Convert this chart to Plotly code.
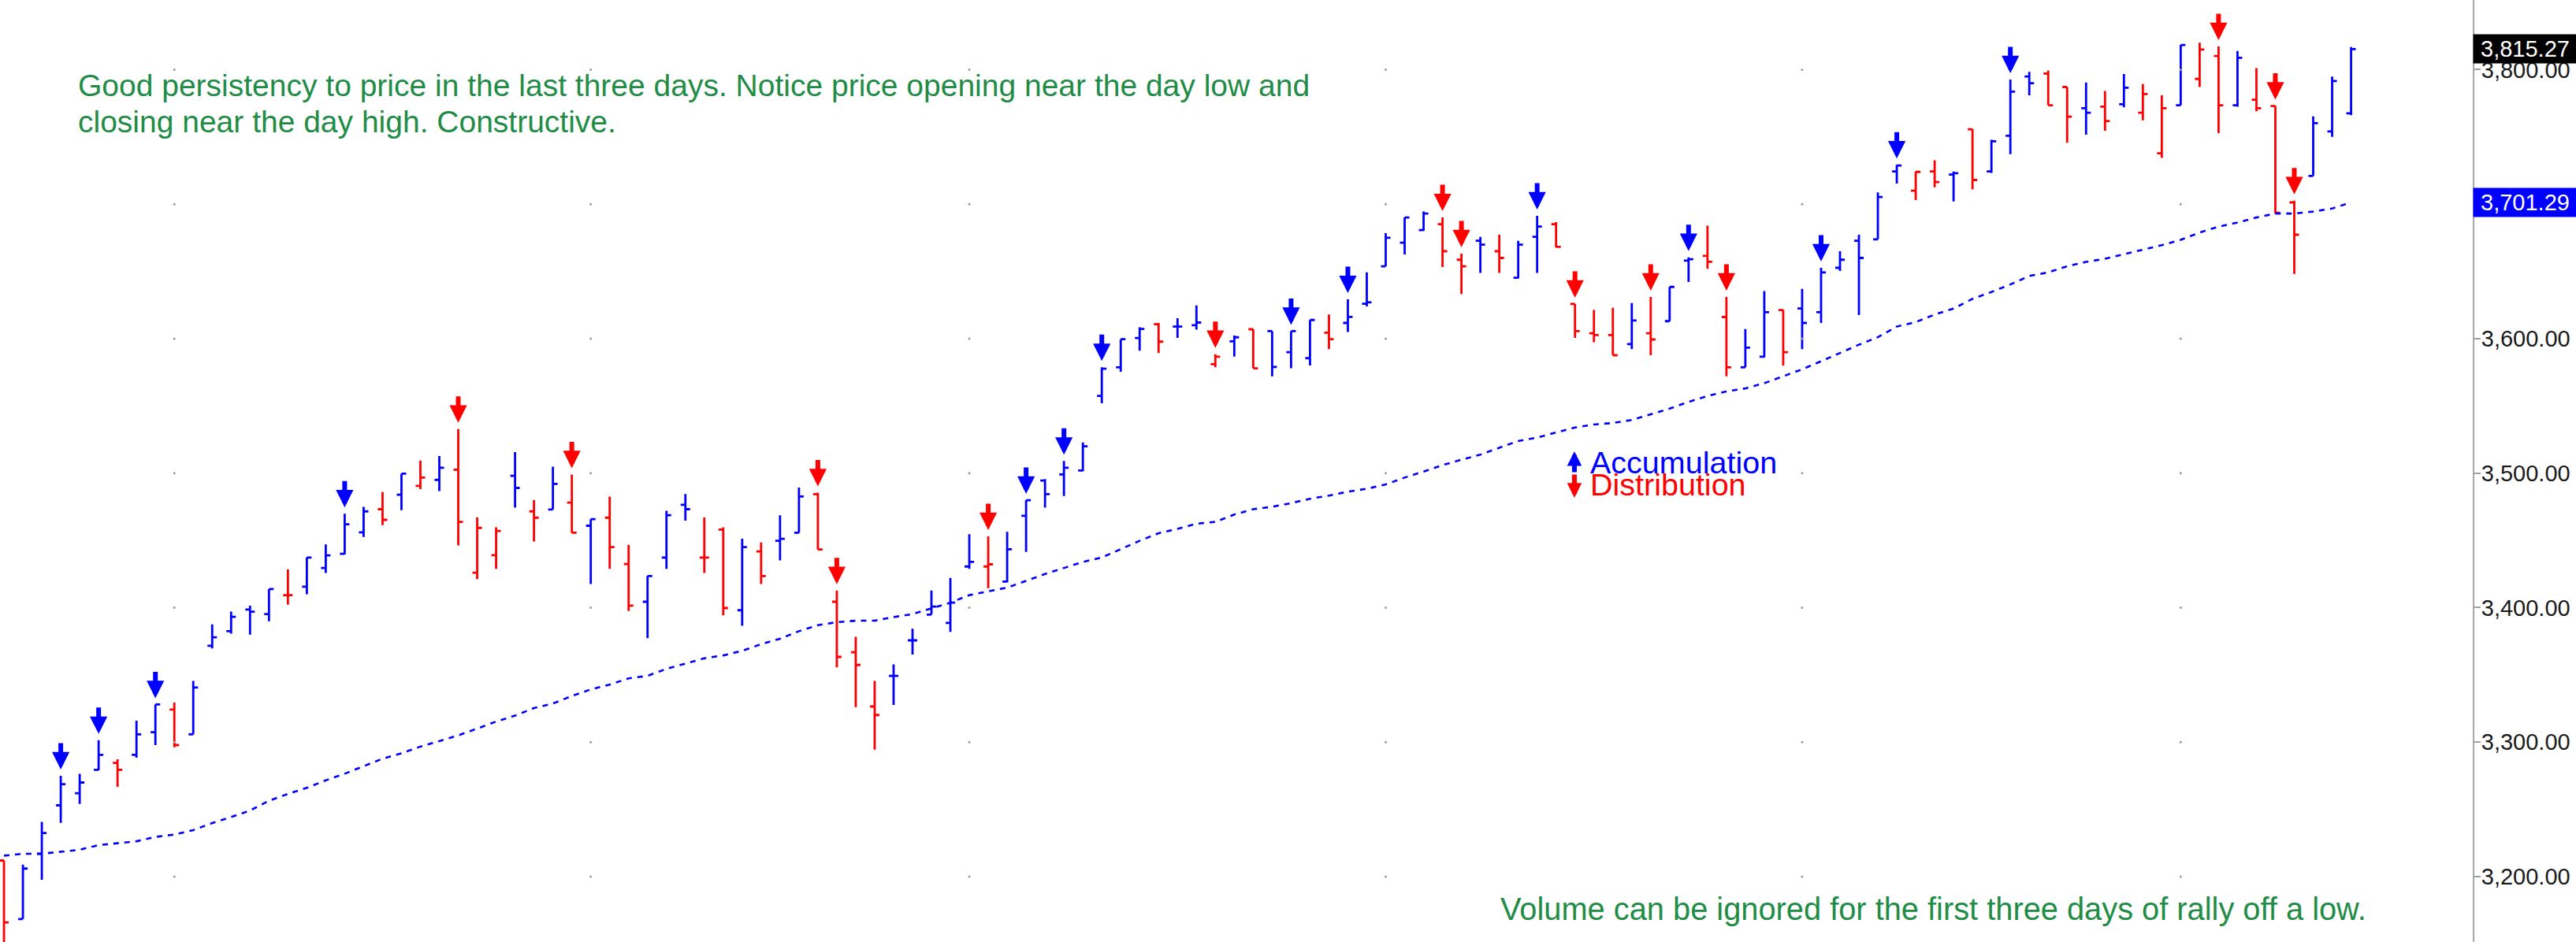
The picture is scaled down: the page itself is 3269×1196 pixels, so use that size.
import plotly.graph_objects as go

# ---------------- data ----------------
opens = [3212, 3168.5, 3217, 3253, 3262, 3279.4, 3284.6, 3290.6, 3307.4, 3324.2,
         3305.8, 3371.7, 3382.5, 3398.6, 3395.2, 3409.3, 3415.6, 3429.5, 3440, 3456,
         3473.2, 3484, 3490.6, 3495, 3502.6, 3426, 3439, 3498, 3471.6, 3473,
         3478.1, 3460.9, 3466.9, 3432.4, 3404.4, 3437.3, 3476.5, 3437.3, 3458, 3398.1,
         3441.8, 3449.7, 3455.7, 3484.4, 3404.4, 3366.8, 3326.5, 3349.3, 3375.7, 3394.8,
         3388.7, 3430.6, 3430.6, 3419.4, 3468.3, 3494.5, 3499, 3502, 3557.5, 3578.7,
         3600.5, 3610.8, 3609, 3610, 3581, 3598, 3607, 3605.6, 3590, 3585.5,
         3604.5, 3611.7, 3626, 3653.8, 3671.3, 3680.7, 3685.1, 3658.7, 3672.8, 3665,
         3645.3, 3675.7, 3685.1, 3625.8, 3604, 3602.7, 3596, 3604, 3613, 3658,
         3661.6, 3616.1, 3578.7, 3586.6, 3621.3, 3622.4, 3619.7, 3652.7, 3672.8, 3673.9,
         3724.3, 3710, 3724.3, 3722, 3755.7, 3724.3, 3750.8, 3794.9, 3797.1, 3787.1,
         3771.4, 3772.5, 3774.3, 3768, 3737.8, 3773.6, 3793.1, 3810.1, 3773.6, 3777.6,
         3773, 3701.3, 3721, 3754.1, 3767.6]
highs = [3212, 3209, 3240.7, 3275, 3276.5, 3301.4, 3287.3, 3316, 3328, 3329.4,
         3345.5, 3387.6, 3397, 3401.5, 3413.8, 3428.4, 3437.3, 3447, 3469.8, 3475,
         3486, 3499.6, 3509.3, 3512.7, 3532.8, 3467.1, 3459.7, 3515.6, 3479.9, 3504.8,
         3499, 3465.8, 3482.6, 3446.7, 3423.5, 3472, 3484.4, 3467.1, 3459.7, 3451.2,
         3448.5, 3468.7, 3489.3, 3485.5, 3412.7, 3378.4, 3345.5, 3357.8, 3384.3, 3412.7,
         3422.1, 3454.6, 3453, 3456.4, 3479.9, 3495.6, 3509, 3522.8, 3578.7, 3599.6,
         3608.5, 3611.7, 3615.2, 3624.7, 3588.4, 3602.3, 3607, 3605.6, 3605.6, 3613.9,
         3618, 3629.2, 3649.3, 3678.4, 3690.1, 3694.5, 3690.1, 3663.2, 3675.7, 3677.3,
         3672.8, 3691.4, 3686.7, 3625.8, 3621.3, 3622.9, 3626.5, 3631, 3638.5, 3660.5,
         3684, 3631, 3607.2, 3635.4, 3621.3, 3637, 3652.7, 3665, 3677.3, 3708.7,
         3729.3, 3724.3, 3732.6, 3724.3, 3755.7, 3747.9, 3792.7, 3798.3, 3799.4, 3787.1,
         3790.4, 3784.2, 3796.7, 3789.3, 3781, 3818.4, 3820, 3817.3, 3813.9, 3801.2,
         3773, 3702.6, 3765.3, 3794.9, 3816.8]
lows = [3140, 3168.5, 3197.7, 3240, 3254, 3279, 3266.7, 3288.4, 3297.8, 3296.2,
        3305.8, 3369.7, 3380.7, 3380, 3389.9, 3402.2, 3410, 3425.7, 3439.6, 3452.6,
        3461.3, 3472.5, 3488.2, 3486.6, 3446.3, 3421.2, 3428.8, 3474.3, 3449.2, 3473,
        3455.7, 3417.6, 3428.8, 3397.5, 3377.3, 3428.8, 3464.7, 3425.7, 3394.3, 3386.5,
        3417.6, 3435.1, 3455.7, 3443.2, 3355.6, 3326, 3294.4, 3327.6, 3365.2, 3394.8,
        3382, 3428.8, 3414.5, 3418.8, 3441.4, 3474.3, 3483, 3501.5, 3551.9, 3575.4,
        3591, 3589.3, 3600.5, 3606.7, 3578.7, 3586.6, 3578, 3572, 3578, 3580,
        3592.2, 3605, 3624, 3653.8, 3662.7, 3680.2, 3653.3, 3633.2, 3648.9, 3648.9,
        3644.8, 3648.9, 3667.7, 3600.5, 3597.3, 3587.7, 3592.2, 3587.7, 3613, 3642.1,
        3652, 3572, 3578.7, 3586.1, 3579.9, 3592.2, 3611.7, 3650.4, 3617.5, 3673.9,
        3715.4, 3703, 3712.5, 3702, 3710.9, 3723.2, 3737.1, 3781, 3773.6, 3745.6,
        3751.7, 3754.6, 3772, 3762.4, 3734.4, 3773.6, 3787.1, 3752.8, 3772.5, 3769.1,
        3693, 3648.2, 3721, 3750.1, 3766.2]
closes = [3166, 3206, 3232.4, 3268.7, 3270, 3290.6, 3279.4, 3305.8, 3328, 3297.8,
          3340.6, 3378, 3393.2, 3397, 3413.8, 3409.3, 3437.3, 3438.9, 3462, 3471.6,
          3465.3, 3499.6, 3496.7, 3504, 3463.8, 3459.3, 3457, 3489, 3466.9, 3492,
          3455.7, 3465.8, 3445, 3401.5, 3423.5, 3468.7, 3473.2, 3437.3, 3399.7, 3445,
          3423.5, 3451.2, 3482.6, 3443.2, 3363.4, 3357.4, 3320.2, 3349.3, 3375.7, 3400.8,
          3403.7, 3434, 3432.2, 3443.4, 3479.9, 3484.4, 3504, 3520, 3577.6, 3599.6,
          3607.2, 3597.8, 3609, 3612, 3586.6, 3601, 3578, 3579, 3605.6, 3613.9,
          3599.6, 3616.2, 3627, 3675, 3690.1, 3693, 3665, 3653.8, 3669.9, 3660,
          3669.9, 3683.4, 3668.3, 3605.6, 3602.7, 3587.7, 3613.5, 3599.4, 3638.5, 3659,
          3657.1, 3578.7, 3593.3, 3619.7, 3590, 3611.7, 3649.3, 3658.7, 3660, 3705.3,
          3728.8, 3724, 3716.5, 3723, 3718, 3746.7, 3783.7, 3790, 3773.6, 3765.1,
          3768, 3761.8, 3786.6, 3781.9, 3771.4, 3818.4, 3815, 3773.6, 3808.8, 3771.4,
          3693.6, 3677.3, 3760.2, 3791.5, 3815.27]
moving_avg = [3215.6, 3217, 3217, 3218.3, 3220, 3223.4, 3225, 3226.3, 3229.5, 3231.3,
              3234.6, 3239.8, 3244.3, 3249.2, 3256.4, 3261.5, 3266, 3271.6, 3276.5, 3282.1,
              3287.7, 3291.7, 3296.7, 3300.8, 3305.0, 3310.1, 3315.3, 3319.7, 3325.3, 3328.7,
              3334.3, 3339.2, 3342.8, 3347.4, 3349.3, 3354.5, 3358.3, 3362.3, 3364.5, 3367.9,
              3372.8, 3376.9, 3382.5, 3387, 3389.2, 3390.3, 3390.3, 3393, 3395.2, 3399.3,
              3403.7, 3409.3, 3412.3, 3414.9, 3419.9, 3425, 3429.5, 3434, 3437.3, 3443.6,
              3449.7, 3455.3, 3458.6, 3462.4, 3463.8, 3469.2, 3473.2, 3475, 3477.7, 3481,
              3483.3, 3486.2, 3488.4, 3491.6, 3496.7, 3501.2, 3506, 3510, 3513.8, 3518.9,
              3523.9, 3526.5, 3530.1, 3533.9, 3536.2, 3537.3, 3539.5, 3543.6, 3548, 3553,
              3557.4, 3560.8, 3563, 3566.9, 3572, 3577.2, 3583.2, 3589.3, 3595.5, 3601.1,
              3609, 3612.3, 3617.9, 3622.4, 3629.6, 3634.7, 3640.3, 3646.6, 3649.3, 3653.8,
              3657.1, 3659.4, 3662.7, 3666.1, 3669.5, 3673.5, 3678.9, 3683.3, 3686.3, 3690.1,
              3693, 3693, 3694.5, 3696.8, 3701.29]
# bar indices (0-based) marked with accumulation / distribution arrows
accumulation_idx = [3, 5, 8, 18, 54, 56, 58, 68, 71, 81, 89, 96, 100, 106]
distribution_idx = [24, 30, 43, 44, 52, 64, 76, 77, 83, 87, 91, 117, 120, 121]
# bars where the month changes (dotted grid positions)
month_idx = [9, 31, 51, 73, 95, 115]
price_ticks = [3200, 3300, 3400, 3500, 3600, 3700, 3800]

note_top_1 = "Good persistency to price in the last three days. Notice price opening near the day low and"
note_top_2 = "closing near the day high. Constructive."
note_bottom = "Volume can be ignored for the first three days of rally off a low."

# ---------------- styling ----------------
BLUE = "#0000FF"
RED = "#FF0000"
GREEN = "#218C46"
FONT = "Liberation Sans, Arial, sans-serif"

n = len(closes)
xs = list(range(n))
up = [False] + [closes[k] > closes[k - 1] for k in range(1, n)]

fig = go.Figure()

# dotted grid at intersections
gx, gy = [], []
for m in month_idx:
    for p in price_ticks:
        gx.append(m)
        gy.append(p)
fig.add_trace(go.Scatter(x=gx, y=gy, mode="markers",
                         marker=dict(size=3, color="#9a9a9a"),
                         hoverinfo="skip", showlegend=False))

# moving average
fig.add_trace(go.Scatter(x=xs, y=moving_avg, mode="lines",
                         line=dict(color=BLUE, width=2.6, dash="7px,7px"),
                         hoverinfo="skip", showlegend=False))

for flag, col in [(True, BLUE), (False, RED)]:
    sel = [k for k in xs if up[k] == flag]
    fig.add_trace(go.Ohlc(
        x=sel,
        open=[opens[k] for k in sel], high=[highs[k] for k in sel],
        low=[lows[k] for k in sel], close=[closes[k] for k in sel],
        increasing=dict(line=dict(color=col, width=2.8)),
        decreasing=dict(line=dict(color=col, width=2.8)),
        tickwidth=0.25, showlegend=False, hoverinfo="skip"))

annotations = []
for idx_list, col in [(accumulation_idx, BLUE), (distribution_idx, RED)]:
    for k in idx_list:
        annotations.append(dict(x=k, y=highs[k], xref="x", yref="y", text="",
                                showarrow=True, ax=0, ay=-35, yshift=8,
                                arrowcolor=col, arrowwidth=6, arrowhead=2,
                                arrowsize=0.74))

# legend arrows and labels
annotations.append(dict(xref="paper", yref="paper", x=0.6367, y=0.5209, text="",
                        showarrow=True, ax=0, ay=28, arrowcolor=BLUE, arrowwidth=6,
                        arrowhead=2, arrowsize=0.62))
annotations.append(dict(xref="paper", yref="paper", x=0.6367, y=0.4716, text="",
                        showarrow=True, ax=0, ay=-31, arrowcolor=RED, arrowwidth=6,
                        arrowhead=2, arrowsize=0.62))
annotations.append(dict(xref="paper", yref="paper", x=0.6428, y=0.5092, xanchor="left",
                        yanchor="middle", text="Accumulation", showarrow=False,
                        borderpad=0, font=dict(family=FONT, size=39.5, color=BLUE)))
annotations.append(dict(xref="paper", yref="paper", x=0.6428, y=0.4858, xanchor="left",
                        yanchor="middle", text="Distribution", showarrow=False,
                        borderpad=0, font=dict(family=FONT, size=39.5, color=RED)))

# green notes
for txt, yy in [(note_top_1, 0.9093), (note_top_2, 0.8708)]:
    annotations.append(dict(xref="paper", yref="paper", x=0.0309, y=yy, xanchor="left",
                            yanchor="middle", text=txt, showarrow=False,
                            font=dict(family=FONT, size=39, color=GREEN)))
annotations.append(dict(xref="paper", yref="paper", x=0.6061, y=0.0347, xanchor="left",
                        yanchor="middle", text=note_bottom, showarrow=False,
                        font=dict(family=FONT, size=39.8, color=GREEN)))

# value boxes on price axis
for val, bg in [(closes[-1], "#000000"), (moving_avg[-1], BLUE)]:
    annotations.append(dict(xref="paper", yref="y", x=1.0, y=val, xanchor="left",
                            yanchor="middle", text=f"{val:,.2f}", showarrow=False,
                            bgcolor=bg, width=127, height=32, borderpad=2,
                            align="center",
                            font=dict(family=FONT, size=29, color="#FFFFFF")))

fig.update_layout(
    width=3269, height=1196,
    margin=dict(l=0, r=131, t=0, b=0),
    paper_bgcolor="white", plot_bgcolor="white",
    showlegend=False,
    annotations=annotations,
    xaxis=dict(range=[-0.21, 130.43], visible=False, showgrid=False,
               zeroline=False, rangeslider=dict(visible=False)),
    yaxis=dict(range=[3151.4, 3851.8], side="right", showgrid=False, zeroline=False,
               tickvals=price_ticks, tickformat=",.2f", ticks="outside", ticklen=8,
               tickwidth=2, tickcolor="#a0a0a0", showline=True, linecolor="#a8a8a8",
               linewidth=2, ticklabelstandoff=-5, automargin=False,
               tickfont=dict(family=FONT, size=29, color="#1a1a1a")),
)

fig.write_html("out.html",
               config={"displayModeBar": False},
               post_script="document.body.style.margin='0px';"
                           "document.body.style.overflow='hidden';")
